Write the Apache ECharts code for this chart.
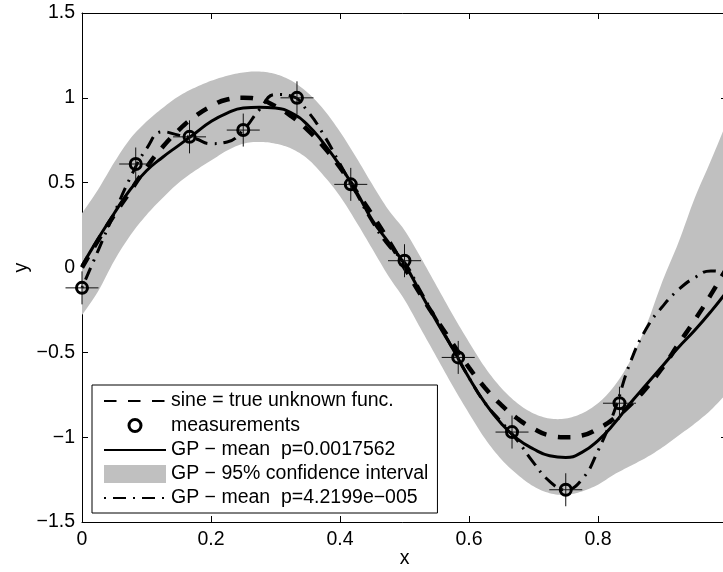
<!DOCTYPE html>
<html>
<head>
<meta charset="utf-8">
<script src="https://cdn.jsdelivr.net/npm/echarts@6/dist/echarts.min.js"></script>
<style>
html,body{margin:0;padding:0;background:#fff;}
#chart{width:723px;height:572px;}
</style>
</head>
<body>
<div id="chart"></div>
<script>
// ---- data ----
const xGrid = [0,0.025,0.05,0.075,0.1,0.125,0.15,0.175,0.2,0.225,0.25,0.275,0.3,0.325,0.35,0.375,0.4,0.425,0.45,0.475,0.5,0.525,0.55,0.575,0.6,0.625,0.65,0.675,0.7,0.725,0.75,0.775,0.8,0.825,0.85,0.875,0.9,0.925,0.95,0.975,1];

const sineY = [0,0.16,0.31,0.45,0.59,0.71,0.81,0.89,0.95,0.99,1.0,0.99,0.95,0.89,0.81,0.71,0.59,0.45,0.31,0.16,0,-0.16,-0.31,-0.45,-0.59,-0.71,-0.81,-0.89,-0.95,-0.99,-1.0,-0.99,-0.95,-0.89,-0.81,-0.71,-0.59,-0.45,-0.31,-0.16,0];

const gpMeanY = [0.01,0.17,0.32,0.46,0.57,0.65,0.72,0.79,0.86,0.91,0.94,0.945,0.94,0.91,0.84,0.73,0.60,0.45,0.28,0.15,0.02,-0.15,-0.32,-0.48,-0.65,-0.80,-0.92,-1.01,-1.07,-1.11,-1.12,-1.09,-1.02,-0.92,-0.80,-0.69,-0.58,-0.47,-0.37,-0.26,-0.14];

const gpAltY = [-0.12,0.10,0.32,0.53,0.70,0.80,0.78,0.76,0.73,0.74,0.81,0.93,1.02,1.01,0.92,0.78,0.61,0.44,0.27,0.13,0.03,-0.14,-0.31,-0.48,-0.65,-0.80,-0.91,-1.02,-1.15,-1.26,-1.31,-1.25,-1.08,-0.85,-0.56,-0.36,-0.23,-0.13,-0.06,-0.02,-0.03];

const bandUpper = [0.32,0.46,0.62,0.76,0.86,0.94,1.01,1.06,1.10,1.13,1.15,1.155,1.14,1.10,1.03,0.93,0.80,0.65,0.49,0.34,0.22,0.06,-0.11,-0.28,-0.44,-0.59,-0.71,-0.80,-0.86,-0.89,-0.89,-0.86,-0.80,-0.70,-0.55,-0.34,-0.08,0.15,0.41,0.63,0.86];

const bandLower = [-0.28,-0.14,0.04,0.19,0.31,0.41,0.50,0.57,0.63,0.69,0.73,0.74,0.73,0.70,0.64,0.54,0.42,0.27,0.11,-0.05,-0.19,-0.36,-0.53,-0.70,-0.86,-1.01,-1.13,-1.22,-1.29,-1.33,-1.34,-1.32,-1.28,-1.22,-1.17,-1.12,-1.06,-0.99,-0.92,-0.84,-0.74];

const measX = [0,0.0833,0.1667,0.25,0.3333,0.4167,0.5,0.5833,0.6667,0.75,0.8333];
const measY = [-0.12,0.61,0.77,0.81,1.00,0.49,0.04,-0.53,-0.97,-1.31,-0.80];

const xTicks = [0,0.2,0.4,0.6,0.8,1];
const yTicks = [-1.5,-1,-0.5,0,0.5,1,1.5];

const names = {
  sine: 'sine = true unknown func.',
  meas: 'measurements',
  mean: 'GP \u2212 mean  p=0.0017562',
  band: 'GP \u2212 95% confidence interval',
  alt:  'GP \u2212 mean  p=4.2199e\u2212005'
};

// ---- build library data ----
const pairs = (xs, ys) => xs.map((x, i) => [x, ys[i]]);
const bandData = xGrid.map((x, i) => [x, bandLower[i], bandUpper[i]]);

const FONT = '"Liberation Sans", Arial, Helvetica, sans-serif';
const FS = 19.5;
const fmt = v => (v < 0 ? '\u2212' + String(Math.abs(v)) : String(v));

const axisCommon = {
  axisLine: { show: true, onZero: false, lineStyle: { color: '#000', width: 1 } },
  axisTick: { show: true, inside: true, length: 6, lineStyle: { color: '#000', width: 1 } },
  splitLine: { show: false },
  z: 0
};

// smooth a pixel polyline (Catmull-Rom -> cubic Bezier, sampled)
function smoothPts(p) {
  const out = [p[0]];
  const n = p.length;
  for (let i = 0; i < n - 1; i++) {
    const p0 = p[i - 1] || p[i], p1 = p[i], p2 = p[i + 1], p3 = p[i + 2] || p[i + 1];
    const c1 = [p1[0] + (p2[0] - p0[0]) / 6, p1[1] + (p2[1] - p0[1]) / 6];
    const c2 = [p2[0] - (p3[0] - p1[0]) / 6, p2[1] - (p3[1] - p1[1]) / 6];
    for (let k = 1; k <= 8; k++) {
      const t = k / 8, u = 1 - t;
      out.push([
        u*u*u*p1[0] + 3*u*u*t*c1[0] + 3*u*t*t*c2[0] + t*t*t*p2[0],
        u*u*u*p1[1] + 3*u*u*t*c1[1] + 3*u*t*t*c2[1] + t*t*t*p2[1]
      ]);
    }
  }
  return out;
}

function renderBand(params, api) {
  if (params.dataIndex !== 0) return null;
  const up = [], lo = [];
  for (let i = 0; i < bandData.length; i++) {
    up.push(api.coord([bandData[i][0], bandData[i][2]]));
    lo.push(api.coord([bandData[i][0], bandData[i][1]]));
  }
  const pts = smoothPts(up).concat(smoothPts(lo).reverse());
  return {
    type: 'polygon',
    shape: { points: pts },
    style: { fill: '#c0c0c0', stroke: null }
  };
}

const chart = echarts.init(document.getElementById('chart'), null, { renderer: 'canvas' });

const circleIcon = 'path://M0,0M18,18M15,9A6,6,0,1,1,3,9A6,6,0,1,1,15,9Z';

chart.setOption({
  animation: false,
  backgroundColor: '#fff',
  grid: { left: 82, top: 13, width: 645, height: 509, containLabel: false, outerBoundsMode: 'none' },
  xAxis: [
    Object.assign({}, axisCommon, {
      type: 'value', min: xTicks[0], max: xTicks[xTicks.length - 1], interval: 0.2, position: 'bottom',
      axisLabel: { color: '#000', fontSize: FS, fontFamily: FONT, margin: 8, showMaxLabel: false },
      name: 'x', nameLocation: 'middle', nameGap: 27, nameMoveOverlap: false,
      nameTextStyle: { color: '#000', fontSize: FS, fontFamily: FONT }
    }),
    Object.assign({}, axisCommon, {
      type: 'value', min: xTicks[0], max: xTicks[xTicks.length - 1], interval: 0.2, position: 'top',
      axisLabel: { show: false }
    })
  ],
  yAxis: [
    Object.assign({}, axisCommon, {
      type: 'value', min: yTicks[0], max: yTicks[yTicks.length - 1], interval: 0.5, position: 'left',
      axisLabel: { color: '#000', fontSize: FS, fontFamily: FONT, margin: 7, formatter: fmt },
      name: 'y', nameLocation: 'middle', nameGap: 50, nameMoveOverlap: false,
      nameTextStyle: { color: '#000', fontSize: FS, fontFamily: FONT }
    }),
    Object.assign({}, axisCommon, {
      type: 'value', min: yTicks[0], max: yTicks[yTicks.length - 1], interval: 0.5, position: 'right',
      axisLabel: { show: false }
    })
  ],
  legend: {
    orient: 'vertical',
    left: 92, top: 385,
    padding: [6, 9, 5, 11],
    itemGap: 4,
    itemWidth: 62,
    itemHeight: 18,
    itemTextGap: 6,
    selectedMode: false,
    backgroundColor: '#fff',
    borderColor: '#000',
    borderWidth: 1,
    borderRadius: 0,
    z: 20,
    textStyle: { color: '#000', fontSize: FS, fontFamily: FONT, lineHeight: 20 },
    data: [
      { name: names.sine, itemStyle: { opacity: 0 } },
      { name: names.meas, icon: circleIcon, itemStyle: { color: 'rgba(0,0,0,0)', borderColor: '#000', borderWidth: 3, opacity: 1 } },
      { name: names.mean, itemStyle: { opacity: 0 } },
      { name: names.band, icon: 'rect', itemStyle: { color: '#c0c0c0', borderWidth: 0, opacity: 1 } },
      { name: names.alt, itemStyle: { opacity: 0 } }
    ]
  },
  series: [
    {
      name: names.band, type: 'custom', data: bandData, renderItem: renderBand,
      silent: true, z: 1, color: '#c0c0c0',
      itemStyle: { color: '#c0c0c0' },
      encode: { x: 0, y: [1, 2] }
    },
    {
      name: names.sine, type: 'line', data: pairs(xGrid, sineY),
      symbol: 'none', smooth: true, z: 3, color: '#000',
      itemStyle: { opacity: 0 },
      lineStyle: { color: '#000', width: 4.5, type: [12.5, 11.5], cap: 'butt' }
    },
    {
      name: names.mean, type: 'line', data: pairs(xGrid, gpMeanY),
      symbol: 'none', smooth: true, z: 4, color: '#000',
      itemStyle: { opacity: 0 },
      lineStyle: { color: '#000', width: 3 }
    },
    {
      name: names.alt, type: 'line', data: pairs(xGrid, gpAltY),
      symbol: 'none', smooth: true, z: 5, color: '#000',
      itemStyle: { opacity: 0 },
      lineStyle: { color: '#000', width: 3, type: [13, 7, 2, 7], dashOffset: 20, cap: 'butt' }
    },
    {
      name: 'cross', type: 'scatter', data: pairs(measX, measY),
      symbol: 'path://M16.5,0L16.5,33M0,16.5L33,16.5', symbolSize: 33, z: 6, silent: true,
      itemStyle: { color: 'none', borderColor: '#111', borderWidth: 1, opacity: 1 }
    },
    {
      name: names.meas, type: 'scatter', data: pairs(measX, measY),
      symbol: 'circle', symbolSize: 11, z: 7, silent: true,
      itemStyle: { color: 'rgba(0,0,0,0)', borderColor: '#000', borderWidth: 3, opacity: 1 }
    }
  ]
});
</script>
</body>
</html>
